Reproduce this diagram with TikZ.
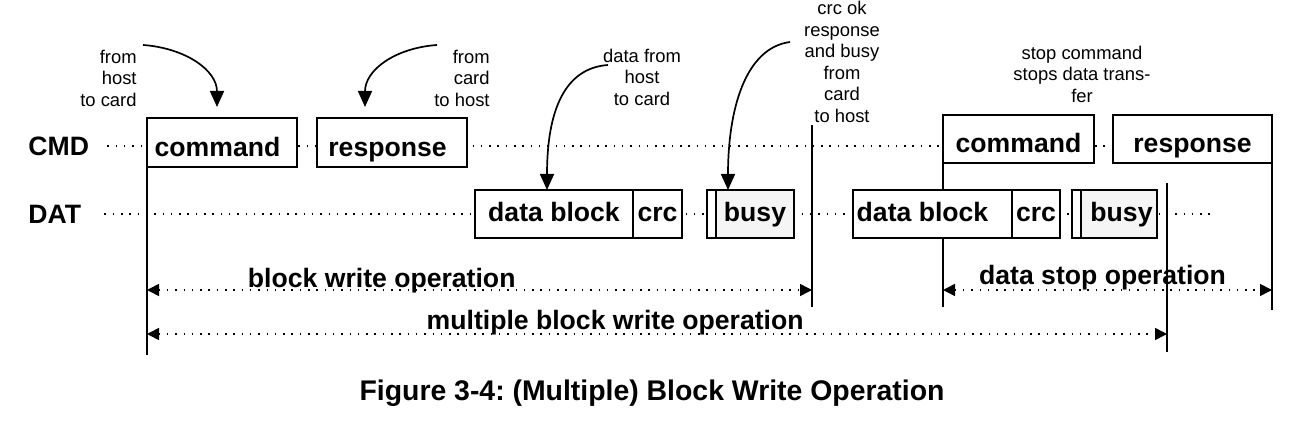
\documentclass[tikz,border=0pt]{standalone}
\usepackage{fontspec}
\setmainfont{Liberation Sans}
\usetikzlibrary{arrows.meta,positioning}
\frenchspacing

\newcommand{\sigfont}{\fontsize{13.3}{15}\selectfont\bfseries}
\newcommand{\notefont}{\fontsize{9.2}{10.75}\selectfont}

\begin{document}
\begin{tikzpicture}[x=0.5pt,y=-0.5pt,
    box/.style={draw,line width=0.75pt,fill=white,outer sep=0pt,inner sep=0pt,minimum height=24pt,font=\sigfont},
    cmdbox/.style={box,text height=14pt,text depth=0pt},
    datbox/.style={box,text height=8pt,text depth=0pt},
    busybox/.style={datbox,fill=black!4},
    sig/.style={font=\sigfont,anchor=west,inner sep=0pt},
    note/.style={font=\notefont,inner sep=0pt},
    dotline/.style={line width=0.75pt,dash pattern=on 0.75pt off 3.4pt},
    dimline/.style={dotline,{Triangle[length=6pt,width=6pt]}-{Triangle[length=6pt,width=6pt]}},
    marker/.style={line width=1pt},
    callout/.style={line width=0.85pt,-{Triangle[length=8pt,width=7pt]}},
    oplabel/.style={font=\sigfont,anchor=base,inner sep=0pt}]

    \useasboundingbox (0,0) rectangle (1305,426);

    \node[sig] (cmdlbl) at (28,146) {CMD};
    \node[sig] (datlbl) at (28,214) {DAT};

    % idle lines first, the boxes cover them
    \coordinate (cmdend) at (1113,146);
    \coordinate (datend) at (1215,214);
    \draw[dotline] ([xshift=9pt]cmdlbl.east) -- (cmdend);
    \draw[dotline] ([xshift=11.5pt]datlbl.east) -- (datend);

    \node[cmdbox,minimum width=75pt,minimum height=24.5pt] (cmd1) at (222,142.5) {command\hspace*{4.5pt}};
    \node[cmdbox,minimum width=75pt,minimum height=24.5pt] (rsp1) at (392,142.5) {response\hspace*{4.5pt}};
    \node[cmdbox,minimum width=75.5pt] (cmd2) at (1018.5,139) {command};
    \node[cmdbox,minimum width=79.5pt] (rsp2) at (1192.5,139) {response};

    % time markers
    \coordinate (m0) at (147,355);
    \coordinate (m1t) at (812,125);
    \coordinate (m1b) at (812,307);
    \coordinate (m2) at (943,307);
    \coordinate (m3t) at (1167,183);
    \coordinate (m3b) at (1167,352);
    \coordinate (m4) at (1272,310);
    \draw[marker] (cmd1.south west) -- (m0);
    \draw[marker] (m1t) -- (m1b);
    \draw[marker] (cmd2.south west) -- (m2);
    \draw[marker] (m3t) -- (m3b);
    \draw[marker] (rsp2.south east) -- (m4);

    \node[datbox,minimum width=79pt] (blk1) at (554,214) {data block};
    \node[datbox,minimum width=24.5pt,right=0pt of blk1] (crc1) {crc};
    \node[datbox,minimum width=4.5pt] (pre1) at (711.5,214) {};
    \node[busybox,minimum width=39pt,right=0pt of pre1] (busy1) {busy};

    \node[datbox,minimum width=79.5pt] (blk2) at (932.5,214) {data block\hspace*{10pt}};
    \node[datbox,minimum width=24pt,right=0pt of blk2] (crc2) {crc};
    \node[datbox,minimum width=4.5pt] (pre2) at (1076.5,214) {};
    \node[busybox,minimum width=38pt,right=0pt of pre2] (busy2) {\hspace*{2.5pt}busy};

    \coordinate (y1) at (0,290);
    \coordinate (y2) at (0,334);
    \draw[dimline] (m0 |- y1) -- node[oplabel,pos=0.353,yshift=1pt] {block write operation} (m1b |- y1);
    \draw[dimline] (m2 |- y1) -- node[oplabel,pos=0.485,yshift=2.5pt] {data stop operation} (m4 |- y1);
    \draw[dimline] (m0 |- y2) -- node[oplabel,pos=0.459,yshift=2pt] {multiple block write operation} (m3b |- y2);

    % notes
    \node[note,align=right,anchor=east] (n1) at (137,78) {from\\host\\to card};
    \node[note,align=right,anchor=east] (n2) at (490,78) {from\\card\\to host};
    \node[note,align=center] (n3) at (642,77) {data from\\host\\to card};
    \node[note,align=center] (n4) at (842,62) {crc ok\\response\\and busy\\from\\card\\to host};
    \node[note,align=center] (n5) at (1082,74) {stop command\\stops data trans-\\fer};

    \coordinate (a1) at (143,45);
    \coordinate (a2) at (437,45);
    \coordinate (a3) at (608,65);
    \coordinate (a4) at (790,42);
    \draw[callout] (a1) .. controls (185,48) and (217,70) .. (217,107);
    \draw[callout] (a2) .. controls (395,48) and (365,70) .. (365,107);
    \draw[callout] (a3) .. controls (565,68) and (547,110) .. ([xshift=-3.5pt]blk1.north);
    \draw[callout] (a4) .. controls (745,48) and (728,110) .. ([xshift=-13.5pt]busy1.north);

    \node[font=\fontsize{14.2}{16}\selectfont\bfseries] (caption) at (652,393) {Figure 3-4: (Multiple) Block Write Operation};
\end{tikzpicture}
\end{document}
